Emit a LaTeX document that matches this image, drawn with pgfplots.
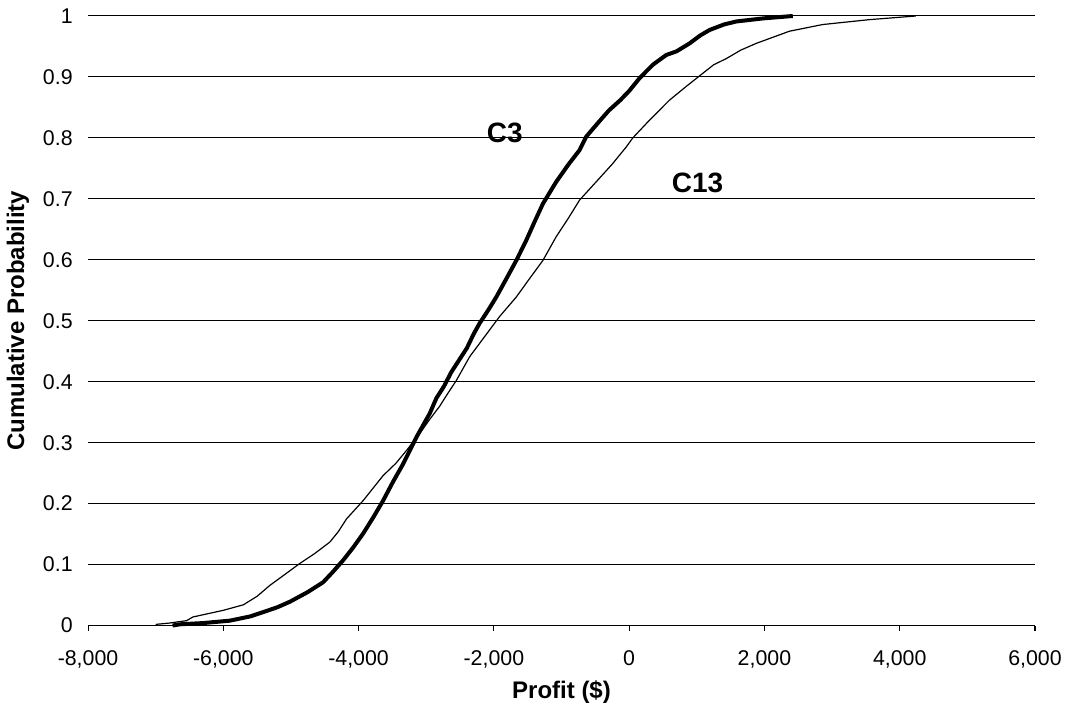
\documentclass[border=0pt]{standalone}
\usepackage{pgfplots}
\pgfplotsset{compat=1.18}
\usepackage{fontspec}
\setmainfont{Liberation Sans}
\begin{document}
\begin{tikzpicture}
\path (-66pt,-65pt) rectangle (734pt,469pt);
\begin{axis}[
  scale only axis,
  width=710pt, height=457pt,
  xmin=-8000, xmax=6000,
  ymin=0, ymax=1,
  xtick={-8000,-6000,...,6000},
  ytick={0,0.1,...,1.0},
  axis x line*=bottom,
  axis y line*=left,
  y axis line style={draw=none},
  ytick style={draw=none},
  xtick style={black, line width=0.75pt},
  tick align=outside,
  major tick length=4pt,
  ymajorgrids,
  grid style={black, line width=0.75pt},
  axis line style={black, line width=0.75pt},
  /pgf/number format/assume math mode=true,
  /pgf/number format/1000 sep={,},
  yticklabel style={/pgf/number format/fixed, /pgf/number format/precision=1, xshift=-4pt},
  xticklabel style={yshift=-11pt},
  tick label style={font=\fontsize{16}{18}\selectfont},
  xlabel={Profit (\$)},
  ylabel={Cumulative Probability},
  label style={font=\bfseries\fontsize{18}{20}\selectfont},
  xlabel style={at={(axis description cs:0.5,-0.1094)}, anchor=center},
  ylabel style={at={(axis description cs:-0.074,0.5)}, anchor=center},
  clip=false,
]
\addplot[black, line width=3pt, line join=round] coordinates {
(-6750,0) (-6641,0.002) (-6300,0.004) (-5903,0.008) (-5600,0.015) (-5410,0.022)
(-5200,0.030) (-5016,0.039) (-4750,0.055) (-4524,0.071) (-4380,0.088) (-4229,0.107)
(-4080,0.128) (-3932,0.151) (-3780,0.178) (-3637,0.205) (-3490,0.236) (-3342,0.265)
(-3145,0.309) (-2948,0.348) (-2850,0.373) (-2740,0.392) (-2628,0.416) (-2400,0.455)
(-2300,0.478) (-2210,0.496) (-2080,0.518) (-1964,0.539) (-1820,0.568) (-1668,0.599)
(-1521,0.632) (-1400,0.662) (-1275,0.692) (-1078,0.728) (-900,0.756) (-733,0.780)
(-635,0.802) (-450,0.826) (-300,0.845) (-130,0.862) (0,0.877) (154,0.898) (350,0.920)
(548,0.936) (700,0.942) (893,0.955) (1050,0.968) (1188,0.977) (1400,0.986)
(1582,0.991) (1976,0.996) (2419,1.0)
};
\addplot[black, line width=0.9pt, line join=round] coordinates {
(-7000,0) (-6986,0.002) (-6800,0.004) (-6542,0.008) (-6450,0.014) (-5998,0.025)
(-5703,0.034) (-5500,0.048) (-5310,0.066) (-5100,0.083) (-4867,0.102) (-4650,0.118)
(-4424,0.137) (-4300,0.154) (-4178,0.175) (-3932,0.205) (-3637,0.246) (-3450,0.266)
(-3293,0.287) (-3096,0.315) (-2950,0.338) (-2800,0.360) (-2680,0.381) (-2555,0.402)
(-2358,0.441) (-2150,0.472) (-1915,0.507) (-1668,0.539) (-1480,0.568) (-1275,0.599)
(-1078,0.638) (-900,0.668) (-733,0.698) (-487,0.728) (-250,0.757) (-44,0.785)
(54,0.800) (300,0.829) (597,0.862) (850,0.885) (1089,0.906) (1250,0.920) (1434,0.930)
(1650,0.944) (1877,0.955) (2369,0.975) (2862,0.986) (3551,0.994) (4240,1.0)
};
\node[font=\bfseries\fontsize{21}{24}\selectfont] at (axis cs:-1840,0.808) {C3};
\node[font=\bfseries\fontsize{21}{24}\selectfont] at (axis cs:1010,0.726) {C13};
\end{axis}
\end{tikzpicture}
\end{document}
